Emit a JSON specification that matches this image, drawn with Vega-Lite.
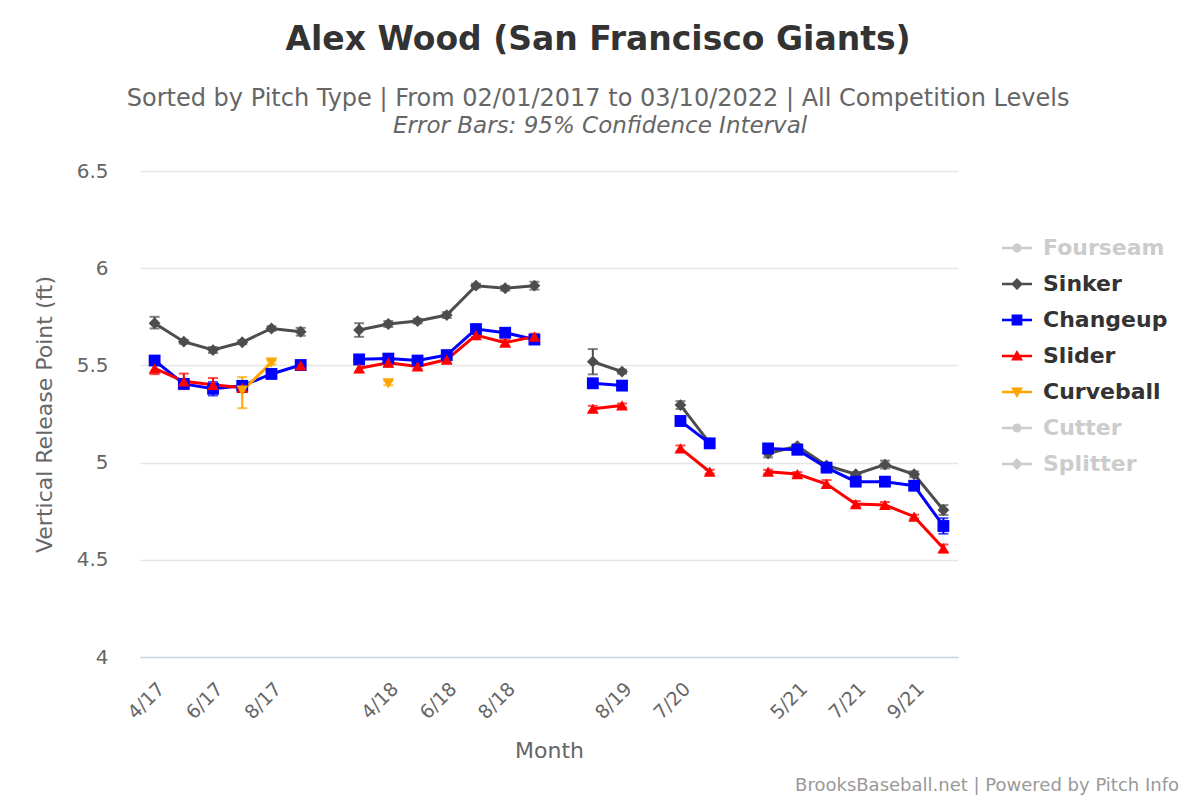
{
  "$schema": "https://vega.github.io/schema/vega-lite/v6.json",
  "background": "white",
  "padding": {"left": 33, "top": 24, "right": 5, "bottom": 5},
  "config": {
    "font": "DejaVu Sans",
    "view": {"stroke": null},
    "axisY": {
      "format": ".2~f",
      "labelFontSize": 20,
      "labelColor": "#666666",
      "labelPadding": 32,
      "domain": false,
      "ticks": false,
      "gridColor": "#e6e6e6",
      "gridWidth": 1.5,
      "titleFontSize": 22,
      "titleFontWeight": "normal",
      "titleColor": "#666666",
      "titlePadding": 20
    }
  },
  "title": {
    "text": "Alex Wood (San Francisco Giants)",
    "subtitle": "Sorted by Pitch Type | From 02/01/2017 to 03/10/2022 | All Competition Levels",
    "fontSize": 33, "fontWeight": "bold", "color": "#333333",
    "subtitleFontSize": 24, "subtitleColor": "#666666", "subtitlePadding": 30,
    "anchor": "middle", "frame": "bounds", "offset": 4, "dx": -8
  },
  "vconcat": [{
    "title": {
      "text": "Error Bars: 95% Confidence Interval",
      "fontSize": 23, "fontStyle": "italic", "fontWeight": "normal", "color": "#666666",
      "anchor": "middle", "frame": "bounds", "offset": 23, "dx": -6
    },
    "vconcat": [{
      "title": {
        "text": "BrooksBaseball.net | Powered by Pitch Info",
        "orient": "bottom", "anchor": "end", "frame": "bounds",
        "fontSize": 18, "fontWeight": "normal", "color": "#999999", "offset": 15, "dx": 221
      },
      "width": 818,
      "height": 486,
      "data": {"values": [
        {"pitch": "Sinker", "month": "4/17", "seg": "2017", "v": 5.717, "lo": 5.69, "hi": 5.75},
        {"pitch": "Sinker", "month": "5/17", "seg": "2017", "v": 5.622, "lo": 5.612, "hi": 5.632},
        {"pitch": "Sinker", "month": "6/17", "seg": "2017", "v": 5.579, "lo": 5.564, "hi": 5.594},
        {"pitch": "Sinker", "month": "7/17", "seg": "2017", "v": 5.619, "lo": 5.609, "hi": 5.629},
        {"pitch": "Sinker", "month": "8/17", "seg": "2017", "v": 5.69, "lo": 5.678, "hi": 5.702},
        {"pitch": "Sinker", "month": "9/17", "seg": "2017", "v": 5.673, "lo": 5.653, "hi": 5.693},
        {"pitch": "Sinker", "month": "3/18", "seg": "2018", "v": 5.682, "lo": 5.647, "hi": 5.717},
        {"pitch": "Sinker", "month": "4/18", "seg": "2018", "v": 5.713, "lo": 5.698, "hi": 5.728},
        {"pitch": "Sinker", "month": "5/18", "seg": "2018", "v": 5.728, "lo": 5.716, "hi": 5.74},
        {"pitch": "Sinker", "month": "6/18", "seg": "2018", "v": 5.759, "lo": 5.744, "hi": 5.774},
        {"pitch": "Sinker", "month": "7/18", "seg": "2018", "v": 5.91, "lo": 5.9, "hi": 5.92},
        {"pitch": "Sinker", "month": "8/18", "seg": "2018", "v": 5.897, "lo": 5.885, "hi": 5.909},
        {"pitch": "Sinker", "month": "9/18", "seg": "2018", "v": 5.91, "lo": 5.89, "hi": 5.93},
        {"pitch": "Sinker", "month": "7/19", "seg": "2019", "v": 5.519, "lo": 5.454, "hi": 5.584},
        {"pitch": "Sinker", "month": "8/19", "seg": "2019", "v": 5.468, "lo": 5.458, "hi": 5.478},
        {"pitch": "Sinker", "month": "7/20", "seg": "2020", "v": 5.296, "lo": 5.276, "hi": 5.316},
        {"pitch": "Sinker", "month": "8/20", "seg": "2020", "v": 5.1, "lo": 5.09, "hi": 5.11},
        {"pitch": "Sinker", "month": "4/21", "seg": "2021", "v": 5.047, "lo": 5.027, "hi": 5.067},
        {"pitch": "Sinker", "month": "5/21", "seg": "2021", "v": 5.085, "lo": 5.075, "hi": 5.095},
        {"pitch": "Sinker", "month": "6/21", "seg": "2021", "v": 4.985, "lo": 4.975, "hi": 4.995},
        {"pitch": "Sinker", "month": "7/21", "seg": "2021", "v": 4.94, "lo": 4.93, "hi": 4.95},
        {"pitch": "Sinker", "month": "8/21", "seg": "2021", "v": 4.99, "lo": 4.97, "hi": 5.01},
        {"pitch": "Sinker", "month": "9/21", "seg": "2021", "v": 4.94, "lo": 4.925, "hi": 4.955},
        {"pitch": "Sinker", "month": "10/21", "seg": "2021", "v": 4.756, "lo": 4.731, "hi": 4.781},
        {"pitch": "Changeup", "month": "4/17", "seg": "2017", "v": 5.525, "lo": 5.51, "hi": 5.54},
        {"pitch": "Changeup", "month": "5/17", "seg": "2017", "v": 5.405, "lo": 5.385, "hi": 5.425},
        {"pitch": "Changeup", "month": "6/17", "seg": "2017", "v": 5.38, "lo": 5.345, "hi": 5.415},
        {"pitch": "Changeup", "month": "7/17", "seg": "2017", "v": 5.395, "lo": 5.375, "hi": 5.415},
        {"pitch": "Changeup", "month": "8/17", "seg": "2017", "v": 5.456, "lo": 5.446, "hi": 5.466},
        {"pitch": "Changeup", "month": "9/17", "seg": "2017", "v": 5.502, "lo": 5.492, "hi": 5.512},
        {"pitch": "Changeup", "month": "3/18", "seg": "2018", "v": 5.531, "lo": 5.521, "hi": 5.541},
        {"pitch": "Changeup", "month": "4/18", "seg": "2018", "v": 5.535, "lo": 5.525, "hi": 5.545},
        {"pitch": "Changeup", "month": "5/18", "seg": "2018", "v": 5.525, "lo": 5.515, "hi": 5.535},
        {"pitch": "Changeup", "month": "6/18", "seg": "2018", "v": 5.553, "lo": 5.543, "hi": 5.563},
        {"pitch": "Changeup", "month": "7/18", "seg": "2018", "v": 5.687, "lo": 5.677, "hi": 5.697},
        {"pitch": "Changeup", "month": "8/18", "seg": "2018", "v": 5.668, "lo": 5.658, "hi": 5.678},
        {"pitch": "Changeup", "month": "9/18", "seg": "2018", "v": 5.633, "lo": 5.623, "hi": 5.643},
        {"pitch": "Changeup", "month": "7/19", "seg": "2019", "v": 5.408, "lo": 5.388, "hi": 5.428},
        {"pitch": "Changeup", "month": "8/19", "seg": "2019", "v": 5.396, "lo": 5.386, "hi": 5.406},
        {"pitch": "Changeup", "month": "7/20", "seg": "2020", "v": 5.214, "lo": 5.189, "hi": 5.239},
        {"pitch": "Changeup", "month": "8/20", "seg": "2020", "v": 5.099, "lo": 5.089, "hi": 5.109},
        {"pitch": "Changeup", "month": "4/21", "seg": "2021", "v": 5.073, "lo": 5.063, "hi": 5.083},
        {"pitch": "Changeup", "month": "5/21", "seg": "2021", "v": 5.066, "lo": 5.056, "hi": 5.076},
        {"pitch": "Changeup", "month": "6/21", "seg": "2021", "v": 4.974, "lo": 4.964, "hi": 4.984},
        {"pitch": "Changeup", "month": "7/21", "seg": "2021", "v": 4.902, "lo": 4.892, "hi": 4.912},
        {"pitch": "Changeup", "month": "8/21", "seg": "2021", "v": 4.902, "lo": 4.892, "hi": 4.912},
        {"pitch": "Changeup", "month": "9/21", "seg": "2021", "v": 4.881, "lo": 4.866, "hi": 4.896},
        {"pitch": "Changeup", "month": "10/21", "seg": "2021", "v": 4.674, "lo": 4.634, "hi": 4.714},
        {"pitch": "Slider", "month": "4/17", "seg": "2017", "v": 5.485, "lo": 5.455, "hi": 5.515},
        {"pitch": "Slider", "month": "5/17", "seg": "2017", "v": 5.418, "lo": 5.378, "hi": 5.458},
        {"pitch": "Slider", "month": "6/17", "seg": "2017", "v": 5.4, "lo": 5.365, "hi": 5.435},
        {"pitch": "Slider", "month": "7/17", "seg": "2017", "v": 5.385, "lo": 5.37, "hi": 5.4},
        {"pitch": "Slider", "month": "9/17", "seg": "2017b", "v": 5.5, "lo": 5.48, "hi": 5.52},
        {"pitch": "Slider", "month": "3/18", "seg": "2018", "v": 5.485, "lo": 5.465, "hi": 5.505},
        {"pitch": "Slider", "month": "4/18", "seg": "2018", "v": 5.514, "lo": 5.494, "hi": 5.534},
        {"pitch": "Slider", "month": "5/18", "seg": "2018", "v": 5.495, "lo": 5.48, "hi": 5.51},
        {"pitch": "Slider", "month": "6/18", "seg": "2018", "v": 5.53, "lo": 5.515, "hi": 5.545},
        {"pitch": "Slider", "month": "7/18", "seg": "2018", "v": 5.656, "lo": 5.646, "hi": 5.666},
        {"pitch": "Slider", "month": "8/18", "seg": "2018", "v": 5.617, "lo": 5.602, "hi": 5.632},
        {"pitch": "Slider", "month": "9/18", "seg": "2018", "v": 5.648, "lo": 5.633, "hi": 5.663},
        {"pitch": "Slider", "month": "7/19", "seg": "2019", "v": 5.277, "lo": 5.262, "hi": 5.292},
        {"pitch": "Slider", "month": "8/19", "seg": "2019", "v": 5.294, "lo": 5.284, "hi": 5.304},
        {"pitch": "Slider", "month": "7/20", "seg": "2020", "v": 5.073, "lo": 5.058, "hi": 5.088},
        {"pitch": "Slider", "month": "8/20", "seg": "2020", "v": 4.953, "lo": 4.943, "hi": 4.963},
        {"pitch": "Slider", "month": "4/21", "seg": "2021", "v": 4.953, "lo": 4.943, "hi": 4.963},
        {"pitch": "Slider", "month": "5/21", "seg": "2021", "v": 4.941, "lo": 4.931, "hi": 4.951},
        {"pitch": "Slider", "month": "6/21", "seg": "2021", "v": 4.89, "lo": 4.87, "hi": 4.91},
        {"pitch": "Slider", "month": "7/21", "seg": "2021", "v": 4.787, "lo": 4.772, "hi": 4.802},
        {"pitch": "Slider", "month": "8/21", "seg": "2021", "v": 4.782, "lo": 4.767, "hi": 4.797},
        {"pitch": "Slider", "month": "9/21", "seg": "2021", "v": 4.722, "lo": 4.712, "hi": 4.732},
        {"pitch": "Slider", "month": "10/21", "seg": "2021", "v": 4.559, "lo": 4.539, "hi": 4.579},
        {"pitch": "Curveball", "month": "7/17", "seg": "2017", "v": 5.37, "lo": 5.28, "hi": 5.44},
        {"pitch": "Curveball", "month": "8/17", "seg": "2017", "v": 5.514, "lo": 5.504, "hi": 5.524},
        {"pitch": "Curveball", "month": "4/18", "seg": "2018", "v": 5.408, "lo": 5.398, "hi": 5.418}
      ]},
      "encoding": {
        "x": {
          "field": "month",
          "type": "ordinal",
          "sort": null,
          "scale": {
            "type": "point",
            "padding": 0.5,
            "domain": ["4/17", "5/17", "6/17", "7/17", "8/17", "9/17", "10/17",
                       "3/18", "4/18", "5/18", "6/18", "7/18", "8/18", "9/18", "10/18",
                       "7/19", "8/19", "9/19", "7/20", "8/20", "9/20",
                       "4/21", "5/21", "6/21", "7/21", "8/21", "9/21", "10/21"]
          },
          "axis": {
            "title": "Month",
            "values": ["4/17", "6/17", "8/17", "4/18", "6/18", "8/18", "8/19", "7/20", "5/21", "7/21", "9/21"],
            "labelAngle": -45,
            "labelAlign": "right",
            "labelBaseline": "top",
            "labelPadding": 22,
            "labelFontSize": 19,
            "labelColor": "#666666",
            "ticks": false,
            "grid": false,
            "domainColor": "#ccd6eb",
            "domainWidth": 1.5,
            "titleFontSize": 22,
            "titleFontWeight": "normal",
            "titleColor": "#666666",
            "titlePadding": 18
          }
        },
        "color": {
          "field": "pitch",
          "type": "nominal",
          "scale": {
            "domain": ["Fourseam", "Sinker", "Changeup", "Slider", "Curveball", "Cutter", "Splitter"],
            "range": ["#cccccc", "#4d4d4d", "#0000ff", "#ff0000", "#ffa500", "#cccccc", "#cccccc"]
          },
          "legend": {
            "orient": "none",
            "legendX": 862,
            "legendY": 62,
            "title": null,
            "padding": 0,
            "symbolSize": 900,
            "labelFontSize": 22,
            "labelFontWeight": "bold",
            "labelColor": "#333333",
            "labelOffset": 11,
            "rowPadding": 10,
            "encode": {
              "labels": {"update": {"fill": {"signal": "indexof(['Fourseam','Cutter','Splitter'], datum.value) >= 0 ? '#cccccc' : '#333333'"}}},
              "symbols": {"update": {
                "fill": {"signal": "scale('color', datum.value)"},
                "strokeWidth": {"value": 0},
                "opacity": {"value": 1},
                "shape": {"signal": "datum.value === 'Sinker' || datum.value === 'Splitter' ? 'M-1,-0.09H1V0.09H-1Z M0,-0.4L0.4,0L0,0.4L-0.4,0Z' : datum.value === 'Changeup' ? 'M-1,-0.09H1V0.09H-1Z M-0.36,-0.36H0.36V0.36H-0.36Z' : datum.value === 'Slider' ? 'M-1,-0.09H1V0.09H-1Z M0,-0.4L0.4,0.3H-0.4Z' : datum.value === 'Curveball' ? 'M-1,-0.09H1V0.09H-1Z M0,0.4L-0.4,-0.3H0.4Z' : 'M-1,-0.09H1V0.09H-1Z M0.3,0A0.3,0.3,0,1,1,-0.3,0A0.3,0.3,0,1,1,0.3,0Z'"}
              }}
            }
          }
        }
      },
      "layer": [
        {
          "mark": {"type": "errorbar", "ticks": {"size": 10, "thickness": 2}, "rule": {"strokeWidth": 2}},
          "encoding": {
            "y": {"field": "lo", "type": "quantitative", "title": "Vertical Release Point (ft)", "scale": {"domain": [4, 6.5], "nice": false}, "axis": {"values": [4, 4.5, 5, 5.5, 6, 6.5]}},
            "y2": {"field": "hi"}
          }
        },
        {
          "mark": {"type": "line", "strokeWidth": 3},
          "encoding": {
            "y": {"field": "v", "type": "quantitative", "title": "Vertical Release Point (ft)", "axis": {"values": [4, 4.5, 5, 5.5, 6, 6.5]}},
            "detail": {"field": "seg"}
          }
        },
        {
          "mark": {"type": "point", "filled": true, "opacity": 1, "size": 140},
          "encoding": {
            "y": {"field": "v", "type": "quantitative", "title": "Vertical Release Point (ft)", "axis": {"values": [4, 4.5, 5, 5.5, 6, 6.5]}},
            "shape": {
              "field": "pitch",
              "type": "nominal",
              "legend": null,
              "scale": {
                "domain": ["Fourseam", "Sinker", "Changeup", "Slider", "Curveball", "Cutter", "Splitter"],
                "range": ["circle", "diamond", "square", "triangle-up", "triangle-down", "circle", "diamond"]
              }
            }
          }
        }
      ],
      "resolve": {"legend": {"shape": "independent"}}
    }]
  }]
}
